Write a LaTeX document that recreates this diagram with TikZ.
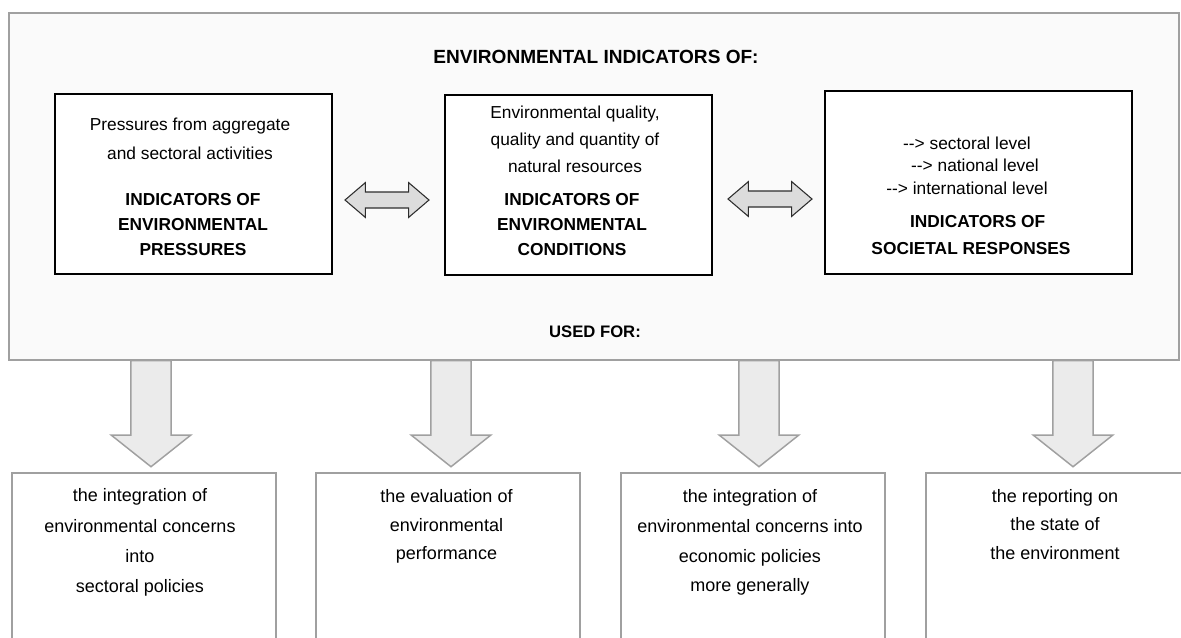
\documentclass[tikz,border=0pt]{standalone}
\usepackage{fontspec}
\setmainfont{Liberation Sans}
\usepackage{tikz}
\usetikzlibrary{shapes.arrows,positioning}
\definecolor{framegray}{RGB}{160,160,160}
\definecolor{framefill}{RGB}{250,250,250}
\definecolor{arrowfill}{RGB}{235,235,235}
\definecolor{dblfill}{RGB}{220,220,220}
\definecolor{dblline}{RGB}{45,45,45}

\begin{document}
\begin{tikzpicture}[x=0.75pt,y=-0.75pt,
    outerframe/.style={draw=framegray,line width=1.5pt,fill=framefill,inner sep=0pt,
      minimum width=877.5pt,minimum height=260.25pt},
    indbox/.style={draw=black,line width=0.9pt,fill=white,inner sep=0pt,minimum height=135pt},
    usedbox/.style={draw=framegray,line width=1.5pt,fill=white,inner sep=0pt,anchor=north,
      minimum width=198pt,minimum height=171pt},
    txt/.style={align=center,inner sep=0pt},
    hdr/.style={font=\bfseries\fontsize{13}{18.75}\selectfont,align=center,inner sep=0pt},
    dblarrow/.style={double arrow,draw=dblline,fill=dblfill,line width=0.8pt,inner xsep=0pt,
      inner ysep=5.6pt,minimum height=63pt,double arrow head extend=7.1pt,double arrow tip angle=81},
    downarrow/.style={single arrow,draw=framegray,fill=arrowfill,line width=1.1pt,inner xsep=0pt,
      inner ysep=14.6pt,rotate=-90,anchor=tail,minimum height=79.5pt,single arrow head extend=14.6pt,
      single arrow tip angle=103}]
  \useasboundingbox (0,0) rectangle (1181,637);

  \node[outerframe] (frame) at (594,186.5) {};
  \node[hdr,font=\bfseries\fontsize{14.3}{18}\selectfont] (title) at (596,57) {ENVIRONMENTAL INDICATORS OF:};
  \node[hdr,font=\bfseries\fontsize{12.5}{18}\selectfont] (usedfor) at (595,332) {USED FOR:};

  \node[indbox,minimum width=207.75pt] (press) at (193.5,184) {};
  \node[indbox,minimum width=200.25pt] (cond) at (578.5,185) {};
  \node[indbox,minimum width=230.25pt,minimum height=137.25pt] (resp) at (978.5,182.5) {};

  \node[txt,font=\fontsize{13}{21.75}\selectfont] (presstxt) at (190,138.5)
    {Pressures from aggregate\\and sectoral activities};
  \node[hdr] (presshdr) at (193,225) {INDICATORS OF\\ENVIRONMENTAL\\PRESSURES};
  \node[txt,font=\fontsize{13}{20.25}\selectfont] (condtxt) at (575,139)
    {Environmental quality,\\quality and quantity of\\natural resources};
  \node[hdr] (condhdr) at (572,225) {INDICATORS OF\\ENVIRONMENTAL\\CONDITIONS};
  \node[txt,font=\fontsize{13}{16.9}\selectfont] (resptxt) at (967,165.5)
    {-{}-{}> sectoral level\\\hspace*{12pt}-{}-{}> national level\\-{}-{}> international level};
  \node[hdr,font=\bfseries\fontsize{13}{20.25}\selectfont] (resphdr) at (971,235.5)
    {\hspace*{10pt}INDICATORS OF\\SOCIETAL RESPONSES};

  \node[dblarrow] (pc) at (387,200) {};
  \node[dblarrow] (cr) at (770,199) {};

  \node[downarrow] (d1) at (151,360) {};
  \node[downarrow] (d2) at (451,360) {};
  \node[downarrow] (d3) at (759,360) {};
  \node[downarrow] (d4) at (1073,360) {};

  \node[usedbox] (use1) at (144,472) {};
  \node[usedbox] (use2) at (447.5,472) {};
  \node[usedbox] (use3) at (752.5,472) {};
  \node[usedbox] (use4) at (1057.5,472) {};

  \node[txt,font=\fontsize{13.5}{22.7}\selectfont] (use1txt) at (140,542.5)
    {the integration of\\environmental concerns\\into\\sectoral policies};
  \node[txt,font=\fontsize{13.5}{21.4}\selectfont] (use2txt) at (446.5,526.5)
    {the evaluation of\\environmental\\performance};
  \node[txt,font=\fontsize{13.5}{22.3}\selectfont] (use3txt) at (750,542.5)
    {the integration of\\environmental concerns into\\economic policies\\more generally};
  \node[txt,font=\fontsize{13.5}{21.4}\selectfont] (use4txt) at (1055,524.5)
    {the reporting on\\the state of\\the environment};
\end{tikzpicture}
\end{document}
